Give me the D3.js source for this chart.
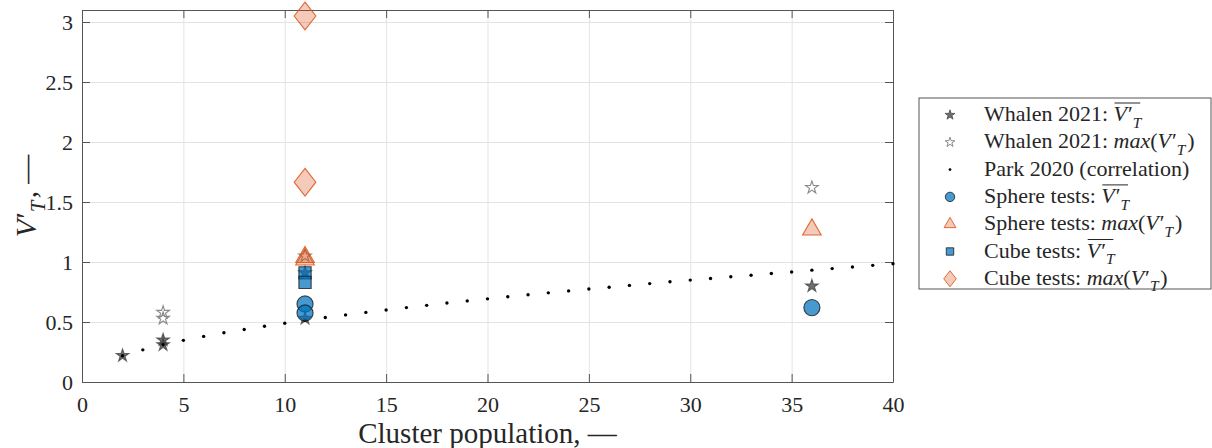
<!DOCTYPE html>
<html>
<head>
<meta charset="utf-8">
<script src="https://cdn.jsdelivr.net/npm/d3@7"></script>
<style>
  body { margin: 0; background: white; }
  svg text { font-family: "Liberation Serif", "Times New Roman", "DejaVu Serif", serif; fill: #262626; }
</style>
</head>
<body>
<div id="chart"></div>
<script>
// data
let whalenMeanX = [2, 4, 4, 11, 11, 36];
let whalenMeanY = [0.22, 0.35, 0.31, 0.53, 0.91, 0.80];
let whalenMaxX = [4, 4, 11, 36];
let whalenMaxY = [0.58, 0.53, 1.05, 1.62];
let parkX = [2, 3, 4, 5, 6, 7, 8, 9, 10, 11, 12, 13, 14, 15, 16, 17, 18, 19, 20, 21,
             22, 23, 24, 25, 26, 27, 28, 29, 30, 31, 32, 33, 34, 35, 36, 37, 38, 39, 40];
let parkY = [0.219, 0.268, 0.310, 0.347, 0.380, 0.410, 0.438, 0.465, 0.490, 0.514,
             0.537, 0.559, 0.580, 0.600, 0.620, 0.639, 0.658, 0.676, 0.693, 0.710,
             0.727, 0.743, 0.759, 0.775, 0.790, 0.805, 0.820, 0.835, 0.849, 0.863,
             0.877, 0.890, 0.904, 0.917, 0.932, 0.945, 0.958, 0.972, 0.985];
let sphereMeanX = [11, 11, 36];
let sphereMeanY = [0.65, 0.575, 0.62];
let sphereMaxX = [11, 11, 36];
let sphereMaxY = [1.02, 1.04, 1.27];
let cubeMeanX = [11, 11];
let cubeMeanY = [0.91, 0.83];
let cubeMaxX = [11, 11];
let cubeMaxY = [3.05, 1.665];

let xTicks = [0, 5, 10, 15, 20, 25, 30, 35, 40];
let yTicks = [0, 0.5, 1, 1.5, 2, 2.5, 3];
let legendNames = ["Whalen 2021: ", "Whalen 2021: ", "Park 2020 (correlation)",
                   "Sphere tests: ", "Sphere tests: ", "Cube tests: ", "Cube tests: "];
let legendMath = ["mean", "max", "", "mean", "max", "mean", "max"];

const W = 1212, H = 448;
const pLeft = 82, pTop = 10, pRight = 893, pBottom = 382;
const serif = "'Liberation Serif', 'Times New Roman', serif";

const xScale = d3.scaleLinear([0, 40], [pLeft, pRight]);
const yScale = d3.scaleLinear([0, 3.1], [pBottom, pTop]);

const svg = d3.select("#chart").append("svg")
    .attr("width", W)
    .attr("height", H)
    .attr("font-family", serif);

// grid
svg.append("g")
    .attr("class", "grid")
    .attr("transform", `translate(0, ${pBottom})`)
    .call(d3.axisBottom(xScale).tickValues(xTicks).tickSize(-(pBottom - pTop)).tickFormat(""))
    .call(g => g.select(".domain").remove());
svg.append("g")
    .attr("class", "grid")
    .attr("transform", `translate(${pLeft}, 0)`)
    .call(d3.axisLeft(yScale).tickValues(yTicks).tickSize(-(pRight - pLeft)).tickFormat(""))
    .call(g => g.select(".domain").remove());

// axes, ticks pointing inwards on all four sides
let xAxis = svg.append("g")
    .attr("class", "ax")
    .attr("transform", `translate(0, ${pBottom})`)
    .call(d3.axisBottom(xScale).tickValues(xTicks).tickSize(-8).tickPadding(12).tickSizeOuter(0));
let yAxis = svg.append("g")
    .attr("class", "ax")
    .attr("transform", `translate(${pLeft}, 0)`)
    .call(d3.axisLeft(yScale).tickValues(yTicks).tickSize(-8).tickPadding(9).tickSizeOuter(0)
        .tickFormat(d => String(d)));
svg.append("g")
    .attr("class", "ax")
    .attr("transform", `translate(0, ${pTop})`)
    .call(d3.axisTop(xScale).tickValues(xTicks).tickSize(-8).tickFormat("").tickSizeOuter(0));
svg.append("g")
    .attr("class", "ax")
    .attr("transform", `translate(${pRight}, 0)`)
    .call(d3.axisRight(yScale).tickValues(yTicks).tickSize(-8).tickFormat("").tickSizeOuter(0));

svg.selectAll(".grid line").attr("stroke", "#e3e3e3");
svg.selectAll(".ax").attr("font-family", serif);
svg.selectAll(".ax .domain").attr("stroke", "#555");
svg.selectAll(".ax .tick line").attr("stroke", "#555");
svg.selectAll(".tick text")
    .attr("fill", "#262626")
    .style("font-family", serif)
    .style("font-size", "22px");
yAxis.selectAll(".tick text").attr("dy", "0.35em");
xAxis.selectAll(".tick text").attr("dy", "0.8em");

// custom diamond (matlab style, a bit wider than d3's)
const diamond = {
    draw(context, size) {
        const h = Math.sqrt(size / 1.55);
        const w = h * 0.78;
        context.moveTo(0, -h);
        context.lineTo(w, 0);
        context.lineTo(0, h);
        context.lineTo(-w, 0);
        context.closePath();
    }
};

const series = [
    { x: whalenMeanX, y: whalenMeanY, type: d3.symbolStar, size: 50, fill: "#404040", fo: 0.75, stroke: "#404040", so: 0.75, legSize: 30 },
    { x: whalenMaxX, y: whalenMaxY, type: d3.symbolStar, size: 50, fill: "none", fo: 0, stroke: "#8a8a8a", so: 1, legSize: 30 },
    { x: parkX, y: parkY, type: d3.symbolCircle, size: 9, fill: "#000", fo: 1, stroke: "none", so: 0, legSize: 6 },
    { x: sphereMeanX, y: sphereMeanY, type: d3.symbolCircle, size: 205, fill: "#0072BD", fo: 0.72, stroke: "#111", so: 0.75, legSize: 70 },
    { x: sphereMaxX, y: sphereMaxY, type: d3.symbolTriangle, size: 150, fill: "#D95319", fo: 0.3, stroke: "#D95319", so: 0.85, legSize: 60 },
    { x: cubeMeanX, y: cubeMeanY, type: d3.symbolSquare, size: 150, fill: "#0072BD", fo: 0.72, stroke: "#111", so: 0.75, legSize: 55 },
    { x: cubeMaxX, y: cubeMaxY, type: diamond, size: 300, fill: "#D95319", fo: 0.3, stroke: "#D95319", so: 0.85, legSize: 100 }
];

for (let s of series) {
    const pts = s.x.map((d, i) => [d, s.y[i]]);
    svg.append("g").selectAll("path")
        .data(pts)
        .enter()
        .append("path")
        .attr("transform", d => `translate(${xScale(d[0])}, ${yScale(d[1])})`)
        .attr("d", d3.symbol().type(s.type).size(s.size))
        .attr("fill", s.fill)
        .attr("fill-opacity", s.fo)
        .attr("stroke", s.stroke)
        .attr("stroke-opacity", s.so)
        .attr("stroke-width", 1.1);
}

// writes V'_T into a text element
function addVT(text, fontSize) {
    text.append("tspan").style("font-style", "italic").text("V");
    text.append("tspan").attr("dx", 1).text("\u2032");
    text.append("tspan")
        .style("font-style", "italic")
        .style("font-size", (fontSize * 0.7) + "px")
        .attr("dy", fontSize * 0.3)
        .text("T");
    text.append("tspan").attr("dy", -fontSize * 0.3).text("\u200A");
}

// legend
const legX = 919, legY = 98, legW = 292, legH = 191;
const rowH = 27.3;
let legend = svg.append("g");
legend.append("rect")
    .attr("x", legX)
    .attr("y", legY)
    .attr("width", legW)
    .attr("height", legH)
    .attr("fill", "white")
    .attr("stroke", "#555")
    .attr("stroke-width", 1);

legendNames.forEach((name, i) => {
    const s = series[i];
    const cy = legY + 17 + i * rowH;
    legend.append("path")
        .attr("transform", `translate(${legX + 31}, ${cy})`)
        .attr("d", d3.symbol().type(s.type).size(s.legSize))
        .attr("fill", s.fill)
        .attr("fill-opacity", s.fo)
        .attr("stroke", s.stroke)
        .attr("stroke-opacity", s.so)
        .attr("stroke-width", 1);

    const fs = 22;
    const t = legend.append("text")
        .attr("x", legX + 65)
        .attr("y", cy + 6)
        .style("font-size", fs + "px");
    t.append("tspan").text(name);
    if (legendMath[i] == "max") {
        t.append("tspan").style("font-style", "italic").text("max");
        t.append("tspan").text("(");
        addVT(t, fs);
        t.append("tspan").text(")");
    } else if (legendMath[i] == "mean") {
        addVT(t, fs);
        // overline over V'_T
        const node = t.node();
        const start = node.getSubStringLength(0, name.length);
        const x0 = legX + 65 + start;
        const wBar = node.getComputedTextLength() - start;
        legend.append("line")
            .attr("x1", x0 + 1)
            .attr("x2", x0 + wBar - 2)
            .attr("y1", cy - 12)
            .attr("y2", cy - 12)
            .attr("stroke", "#262626")
            .attr("stroke-width", 1);
    }
});

// axis titles
svg.append("text")
    .attr("x", (pLeft + pRight) / 2)
    .attr("y", 443)
    .attr("text-anchor", "middle")
    .style("font-size", "29px")
    .text("Cluster population, \u2014");

let yLab = svg.append("text")
    .attr("transform", `translate(36, ${(pTop + pBottom) / 2}) rotate(-90)`)
    .attr("text-anchor", "middle")
    .style("font-size", "29px");
addVT(yLab, 29);
yLab.append("tspan").text(", \u2014");
</script>
</body>
</html>
